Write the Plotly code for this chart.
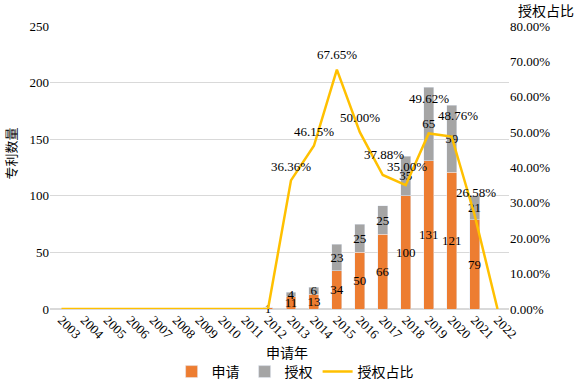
import plotly.graph_objects as go

years = [str(y) for y in range(2003, 2023)]
apply_counts = [0, 0, 0, 0, 0, 0, 0, 0, 0, 1, 11, 13, 34, 50, 66, 100, 131, 121, 79, 0]
grant_counts = [0, 0, 0, 0, 0, 0, 0, 0, 0, 0, 4, 6, 23, 25, 25, 35, 65, 59, 21, 0]
grant_ratio = [0, 0, 0, 0, 0, 0, 0, 0, 0, 0, 0.3636, 0.4615, 0.6765, 0.5000,
               0.3788, 0.3500, 0.4962, 0.4876, 0.2658, 0]

left_ticks = [0, 50, 100, 150, 200, 250]
right_ticks = [i / 10 for i in range(0, 9)]

# label offsets (pixels) for the ratio labels, style only
ratio_label_dy = [14, 14, 14, 14, 14, 14, 14, 14, 14, 14, 14, 14, 15, 15, 21, 19, 35, 21, 22, 14]
ratio_label_dx = [0, 0, 0, 0, 0, 0, 0, 0, 0, 0, 0, 0, 0, 0, 1, 1, 0, 6, 1, 0]

FONT = "SimSun, 'Liberation Serif', 'Noto Sans CJK SC', serif"
CJK = "SimSun, 'Noto Sans CJK SC', 'Liberation Serif', serif"

def lbl(vals):
    return [str(v) if v else "" for v in vals]

fig = go.Figure()
fig.add_trace(go.Bar(
    x=years, y=apply_counts, name="申请", marker_color="#ED7D31",
    text=lbl(apply_counts), textposition="inside", insidetextanchor="middle",
    textangle=0, constraintext="none", cliponaxis=False,
    textfont=dict(color="#000000", size=13, family=FONT), hoverinfo="skip"))
fig.add_trace(go.Bar(
    x=years, y=grant_counts, name="授权", marker_color="#A5A5A5",
    text=lbl(grant_counts), textposition="inside", insidetextanchor="middle",
    textangle=0, constraintext="none", cliponaxis=False,
    textfont=dict(color="#000000", size=13, family=FONT), hoverinfo="skip"))
fig.add_trace(go.Scatter(
    x=years, y=grant_ratio, name="授权占比", yaxis="y2", mode="lines",
    line=dict(color="#FFC000", width=2.5), cliponaxis=False))

annotations = []
for i, (v, dy, dx) in enumerate(zip(grant_ratio, ratio_label_dy, ratio_label_dx)):
    if v:
        annotations.append(dict(
            x=i, y=v, xref="x", yref="y2", text=f"{v*100:.2f}%",
            showarrow=False, xanchor="center", yanchor="middle",
            yshift=dy, xshift=dx,
            font=dict(size=13, family=FONT, color="#000000")))

annotations += [
    dict(text="授权占比", xref="paper", yref="paper", x=1.0, xanchor="left",
         xshift=7, y=1, yanchor="bottom", yshift=4, showarrow=False,
         font=dict(size=14, family=CJK)),
    dict(text="专利数量", xref="paper", yref="paper", x=-0.0859, y=0.548,
         textangle=-90, showarrow=False, xanchor="center", yanchor="middle",
         font=dict(size=13, family=CJK)),
    dict(text="申请年", xref="paper", yref="paper", x=0.516, y=-0.152,
         showarrow=False, xanchor="center", yanchor="middle",
         font=dict(size=14, family=CJK)),
]

fig.update_layout(
    width=574, height=385,
    margin=dict(l=49.5, r=64.5, t=26, b=76, autoexpand=False),
    paper_bgcolor="white", plot_bgcolor="white",
    barmode="stack", bargap=0.57,
    font=dict(family=FONT, size=13, color="#000000"),
    xaxis=dict(type="category", tickangle=45, showgrid=False, showline=False,
               range=[-0.5, len(years) - 0.5], autorange=False,
               ticks="", automargin=False, tickfont=dict(size=13, family=FONT)),
    yaxis=dict(range=[0, 250], tickvals=left_ticks, showgrid=True,
               gridcolor="#D9D9D9", gridwidth=1, zeroline=True,
               zerolinecolor="#D9D9D9", ticks="", automargin=False,
               tickfont=dict(size=13)),
    yaxis2=dict(range=[0, 0.8], tickvals=right_ticks, tickformat=".2%",
                overlaying="y", side="right", showgrid=False, zeroline=False,
                ticks="", automargin=False, tickfont=dict(size=13)),
    legend=dict(orientation="h", x=0.534, xanchor="center", y=-0.2226,
                yanchor="middle", font=dict(size=14, family=CJK),
                traceorder="normal"),
    showlegend=True,
    annotations=annotations,
)

fig.write_html("out.html", config={"displayModeBar": False},
               post_script="document.body.style.margin='0';document.body.style.padding='0';")
